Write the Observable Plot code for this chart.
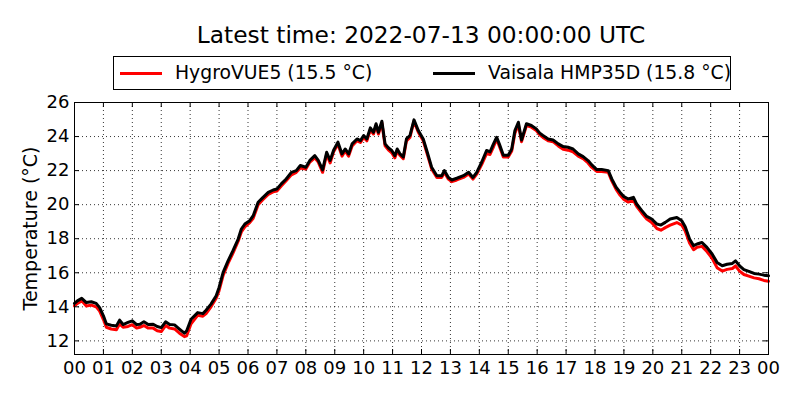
<!DOCTYPE html>
<html>
<head>
<meta charset="utf-8">
<script src="https://cdn.jsdelivr.net/npm/d3@7"></script>
<script src="https://cdn.jsdelivr.net/npm/@observablehq/plot@0.6"></script>
<style>
  body { margin: 0; background: #fff; }
  #wrap { position: relative; width: 800px; height: 400px; font-family: "DejaVu Sans", sans-serif; color: #000; }
  #title { position: absolute; left: 74px; width: 694px; top: 23px; text-align: center; font-size: 23.3px; line-height: 1; }
  #legend { position: absolute; left: 113px; top: 56px; width: 618px; height: 34px; box-sizing: border-box; border: 1px solid #000; background: #fff; }
  .lg-line { position: absolute; top: 14.5px; width: 42px; height: 3px; }
  .lg-text { position: absolute; top: 6.5px; font-size: 18.8px; line-height: 1; white-space: nowrap; }
  #chart { position: absolute; left: 0; top: 92px; }
</style>
</head>
<body>
<div id="wrap">
  <div id="title">Latest time: 2022-07-13 00:00:00 UTC</div>
  <div id="legend">
    <div class="lg-line" style="left:6px;background:#ff0000"></div>
    <div class="lg-text" style="left:61px">HygroVUE5 (15.5 °C)</div>
    <div class="lg-line" style="left:319px;background:#000"></div>
    <div class="lg-text" style="left:374px">Vaisala HMP35D (15.8 °C)</div>
  </div>
  <div id="chart"></div>
</div>
<script>
const hours = [0.0,0.1,0.25,0.41,0.58,0.75,0.87,1.0,1.1,1.27,1.45,1.56,1.68,1.85,2.0,2.15,2.26,2.4,2.55,2.72,2.86,3.0,3.15,3.29,3.46,3.63,3.8,3.88,4.03,4.26,4.44,4.55,4.72,4.9,5.0,5.14,5.31,5.48,5.66,5.77,5.89,6.06,6.18,6.35,6.52,6.7,6.87,7.0,7.15,7.32,7.5,7.67,7.81,8.0,8.14,8.31,8.43,8.58,8.72,8.84,8.96,9.11,9.25,9.36,9.48,9.6,9.77,9.89,10.0,10.11,10.23,10.34,10.43,10.51,10.63,10.74,10.86,10.97,11.08,11.16,11.25,11.37,11.48,11.6,11.74,11.89,12.06,12.2,12.35,12.53,12.7,12.79,12.93,13.05,13.22,13.45,13.63,13.78,13.91,14.08,14.25,14.37,14.49,14.6,14.69,14.83,15.0,15.12,15.23,15.35,15.46,15.63,15.8,15.97,16.09,16.2,16.38,16.55,16.73,16.9,17.07,17.24,17.42,17.59,17.76,17.88,18.06,18.23,18.46,18.58,18.73,18.87,19.0,19.15,19.33,19.44,19.62,19.79,19.96,20.14,20.28,20.43,20.6,20.83,21.0,21.12,21.27,21.41,21.53,21.7,21.87,22.05,22.22,22.4,22.57,22.75,22.86,23.0,23.15,23.32,23.5,23.67,23.84,24.0];

const hygroVUE5 = [14.05,14.2,14.35,14.05,14.1,14.0,13.75,13.25,12.8,12.7,12.65,13.0,12.8,12.85,12.95,12.75,12.8,12.9,12.75,12.75,12.6,12.55,12.9,12.75,12.7,12.45,12.25,12.3,13.0,13.5,13.45,13.6,14.0,14.5,14.95,15.85,16.55,17.15,17.85,18.4,18.7,18.95,19.2,20.0,20.3,20.6,20.75,20.8,21.1,21.4,21.75,21.9,22.15,22.1,22.5,22.75,22.5,21.9,22.95,22.45,23.1,23.55,22.85,23.15,22.85,23.45,23.75,23.65,23.95,23.75,24.4,24.15,24.65,24.15,24.8,23.45,23.2,23.05,22.75,23.15,22.9,22.7,23.75,23.95,24.9,24.25,23.75,22.95,22.1,21.6,21.6,21.9,21.5,21.35,21.45,21.6,21.8,21.5,21.8,22.35,23.0,22.95,23.4,23.85,23.45,22.8,22.8,23.15,24.2,24.7,23.7,24.65,24.55,24.35,24.1,23.95,23.75,23.7,23.45,23.25,23.2,23.1,22.85,22.7,22.45,22.2,21.95,21.95,21.9,21.4,20.9,20.55,20.3,20.15,20.25,19.9,19.5,19.15,18.95,18.6,18.5,18.65,18.8,18.95,18.8,18.45,17.75,17.35,17.5,17.55,17.25,16.85,16.3,16.1,16.2,16.25,16.4,16.1,15.9,15.8,15.7,15.65,15.55,15.5];

const hmp35d = [14.2,14.35,14.5,14.25,14.3,14.2,13.95,13.47,13.0,12.92,12.88,13.22,12.96,13.08,13.18,12.96,12.98,13.12,12.96,12.98,12.84,12.78,13.12,12.96,12.94,12.69,12.45,12.6,13.27,13.66,13.6,13.8,14.16,14.65,15.14,16.02,16.7,17.3,17.98,18.57,18.86,19.06,19.35,20.14,20.43,20.72,20.86,20.92,21.22,21.51,21.9,22.0,22.3,22.2,22.6,22.88,22.6,22.04,23.08,22.6,23.2,23.67,22.98,23.27,22.98,23.57,23.86,23.76,24.06,23.86,24.51,24.25,24.75,24.25,24.9,23.57,23.33,23.18,22.88,23.27,23.0,22.8,23.86,24.06,24.98,24.35,23.86,23.08,22.2,21.7,21.7,22.0,21.6,21.45,21.55,21.7,21.9,21.6,21.9,22.49,23.18,23.1,23.57,23.96,23.57,22.9,22.9,23.27,24.35,24.84,23.8,24.75,24.65,24.45,24.2,24.06,23.86,23.8,23.57,23.41,23.37,23.27,22.98,22.82,22.59,22.35,22.06,22.06,22.0,21.51,21.02,20.72,20.47,20.33,20.43,20.04,19.65,19.31,19.16,18.86,18.8,18.96,19.16,19.25,19.06,18.7,17.98,17.59,17.69,17.78,17.49,17.1,16.61,16.41,16.5,16.55,16.7,16.41,16.18,16.08,15.96,15.92,15.86,15.82];

const xTicks = [0,1,2,3,4,5,6,7,8,9,10,11,12,13,14,15,16,17,18,19,20,21,22,23,24];
const xTickLabels = ["00","01","02","03","04","05","06","07","08","09","10","11","12","13","14","15","16","17","18","19","20","21","22","23","00"];
const yTicks = [12,14,16,18,20,22,24,26];
const yLabel = "Temperature (°C)";

const hygroRows = hours.map((h, i) => ({h, t: hygroVUE5[i]}));
const hmpRows = hours.map((h, i) => ({h, t: hmp35d[i]}));

const W = 800, H = 308, mT = 10, mB = 46, mL = 74, mR = 32;
const xDom = [0, 24], yDom = [11.2, 26];
const tickPx = 5;
const tickLenY = tickPx * (yDom[1] - yDom[0]) / (H - mT - mB);
const tickLenX = tickPx * (xDom[1] - xDom[0]) / (W - mL - mR);
const inner = xTicks.filter(d => d > xDom[0] && d < xDom[1]);
const innerY = yTicks.filter(d => d > yDom[0] && d < yDom[1]);

const chart = Plot.plot({
  width: W, height: H,
  marginTop: mT, marginBottom: mB, marginLeft: mL, marginRight: mR,
  x: {domain: xDom},
  y: {domain: yDom},
  style: {fontFamily: "DejaVu Sans", fontSize: "18px", color: "#000", background: "#fff", overflow: "visible"},
  marks: [
    Plot.ruleX(inner, {stroke: "#000", strokeWidth: 0.8, strokeDasharray: "1,3"}),
    Plot.ruleY(innerY, {stroke: "#000", strokeWidth: 0.8, strokeDasharray: "1,3"}),
    Plot.line(hygroRows, {x: "h", y: "t", stroke: "#ff0000", strokeWidth: 3, strokeLinejoin: "round"}),
    Plot.line(hmpRows, {x: "h", y: "t", stroke: "#000", strokeWidth: 3, strokeLinejoin: "round"}),
    Plot.ruleX(inner, {y1: yDom[0], y2: yDom[0] + tickLenY, stroke: "#000", strokeWidth: 1}),
    Plot.ruleX(inner, {y1: yDom[1] - tickLenY, y2: yDom[1], stroke: "#000", strokeWidth: 1}),
    Plot.ruleY(innerY, {x1: xDom[0], x2: xDom[0] + tickLenX, stroke: "#000", strokeWidth: 1}),
    Plot.ruleY(innerY, {x1: xDom[1] - tickLenX, x2: xDom[1], stroke: "#000", strokeWidth: 1}),
    Plot.frame({stroke: "#000", strokeWidth: 1}),
    Plot.axisX(xTicks, {tickSize: 0, tickPadding: 7, label: null, fontSize: 18,
      tickFormat: d => xTickLabels[xTicks.indexOf(d)]}),
    Plot.axisY(yTicks, {tickSize: 0, tickPadding: 5, label: null, fontSize: 18}),
    Plot.text([yLabel], {frameAnchor: "left", rotate: -90, dx: -44, textAnchor: "middle", lineAnchor: "middle",
      fontSize: 19, text: d => d, fill: "#000"})
  ]
});
document.getElementById("chart").appendChild(chart);
</script>
</body>
</html>
